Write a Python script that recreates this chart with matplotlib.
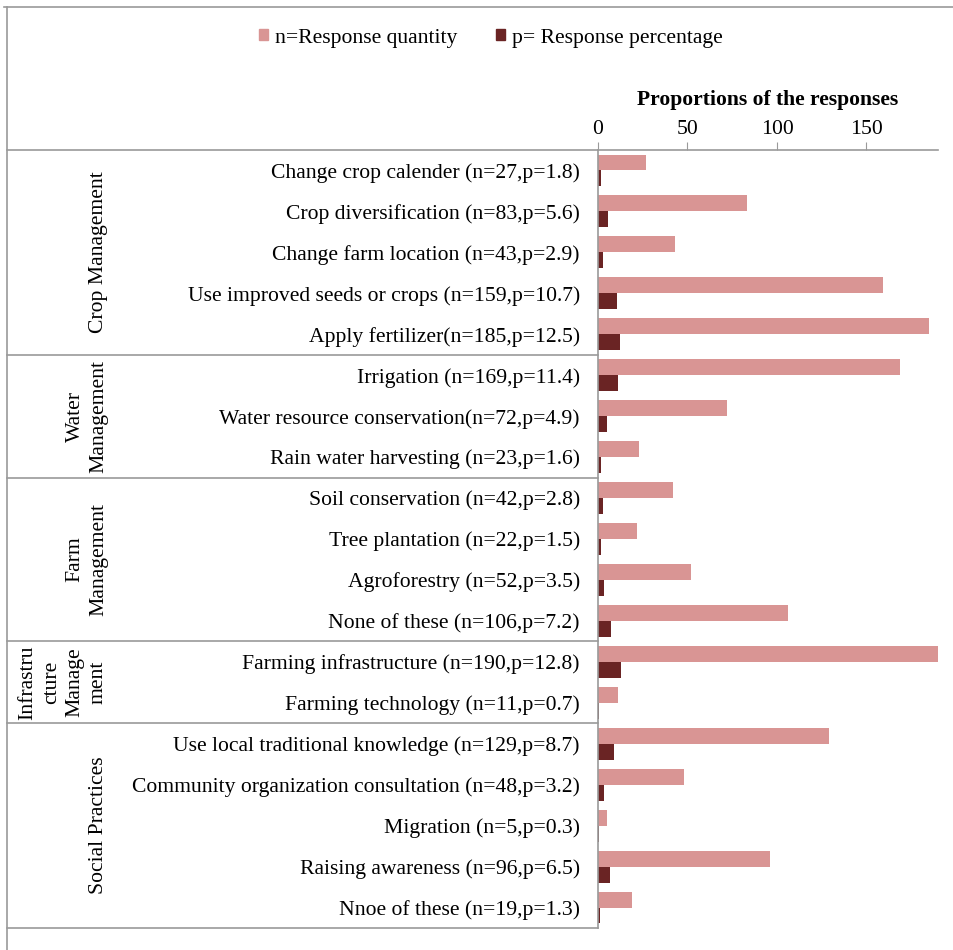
import matplotlib
matplotlib.use("Agg")
import matplotlib.pyplot as plt
from matplotlib.patches import Patch
from matplotlib.lines import Line2D
import matplotlib.transforms as mtransforms

plt.rcParams['font.family'] = ['Liberation Serif', 'DejaVu Serif']

categories = [
    "Change crop calender (n=27,p=1.8)",
    "Crop diversification (n=83,p=5.6)",
    "Change farm location (n=43,p=2.9)",
    "Use improved seeds or crops (n=159,p=10.7)",
    "Apply fertilizer(n=185,p=12.5)",
    "Irrigation (n=169,p=11.4)",
    "Water resource conservation(n=72,p=4.9)",
    "Rain water harvesting (n=23,p=1.6)",
    "Soil conservation (n=42,p=2.8)",
    "Tree plantation (n=22,p=1.5)",
    "Agroforestry (n=52,p=3.5)",
    "None of these (n=106,p=7.2)",
    "Farming infrastructure (n=190,p=12.8)",
    "Farming technology (n=11,p=0.7)",
    "Use local traditional knowledge (n=129,p=8.7)",
    "Community organization consultation (n=48,p=3.2)",
    "Migration (n=5,p=0.3)",
    "Raising awareness (n=96,p=6.5)",
    "Nnoe of these (n=19,p=1.3)",
]
n_values = [27, 83, 43, 159, 185, 169, 72, 23, 42, 22, 52, 106, 190, 11, 129, 48, 5, 96, 19]
p_values = [1.8, 5.6, 2.9, 10.7, 12.5, 11.4, 4.9, 1.6, 2.8, 1.5, 3.5, 7.2, 12.8, 0.7, 8.7, 3.2, 0.3, 6.5, 1.3]
groups = ["Crop Management", "Water\nManagement", "Farm\nManagement",
          "Infrastru\ncture\nManage\nment", "Social Practices"]
group_sizes = [5, 3, 4, 2, 5]
x_ticks = [0, 50, 100, 150]
series_names = ["n=Response quantity", "p= Response percentage"]

pink = "#D99594"
dark = "#6A2424"
gray = "#9A9A9A"
fs = 15.6

W, H = 954, 950
fig = plt.figure(figsize=(W / 100, H / 100), dpi=100)
ax = fig.add_axes([598 / W, 1 - 928 / H, (938 - 598) / W, (928 - 150) / H])

ys = list(range(len(categories)))
bh = 0.39
ax.barh([y - bh / 2 for y in ys], n_values, height=bh, color=pink, zorder=2)
ax.barh([y + bh / 2 for y in ys], p_values, height=bh, color=dark, zorder=2)

ax.set_ylim(len(categories) - 0.5, -0.5)
ax.set_xlim(0, 190)
ax.xaxis.set_ticks_position('top')
ax.xaxis.set_label_position('top')
ax.set_xticks(x_ticks)
ax.set_xticklabels([str(t) for t in x_ticks], fontsize=fs)
ax.tick_params(axis='x', direction='out', length=6, color=gray, pad=2)
ax.set_xlabel("Proportions of the responses", fontsize=fs, fontweight='bold', labelpad=11)
ax.set_yticks(ys)
ax.set_yticklabels(categories, fontsize=fs)
ax.tick_params(axis='y', length=0, pad=13)

for s in ['right', 'bottom']:
    ax.spines[s].set_visible(False)
ax.spines['top'].set_color(gray)
ax.spines['left'].set_color(gray)
ax.spines['top'].set_linewidth(1.2)
ax.spines['left'].set_linewidth(1.2)

# group separators and labels
trans = mtransforms.blended_transform_factory(fig.transFigure, ax.transData)
bounds = [-0.5]
for g in group_sizes:
    bounds.append(bounds[-1] + g)
for b in bounds:
    ax.add_line(Line2D([7 / W, 598 / W], [b, b], transform=trans, color=gray,
                       lw=1.2, clip_on=False))
for i, name in enumerate(groups):
    yc = (bounds[i] + bounds[i + 1]) / 2
    ax.text(108 / W, yc, name, transform=trans, rotation=90, ha='right', va='center',
            multialignment='center', fontsize=fs, linespacing=1.32)

# outer frame (partially cropped)
fig.add_artist(Line2D([4 / W, 1], [1 - 7 / H, 1 - 7 / H], transform=fig.transFigure,
                      color=gray, lw=1.2))
fig.add_artist(Line2D([7 / W, 7 / W], [0, 1 - 7 / H], transform=fig.transFigure,
                      color=gray, lw=1.2))

handles = [Patch(color=pink, label=series_names[0]), Patch(color=dark, label=series_names[1])]
fig.legend(handles=handles, loc='center', bbox_to_anchor=(491 / W, 1 - 38 / H), ncol=2,
           frameon=False, fontsize=fs, handlelength=0.42, handleheight=0.42,
           handletextpad=0.35, columnspacing=1.75)

fig.savefig("out.png", dpi=100)
